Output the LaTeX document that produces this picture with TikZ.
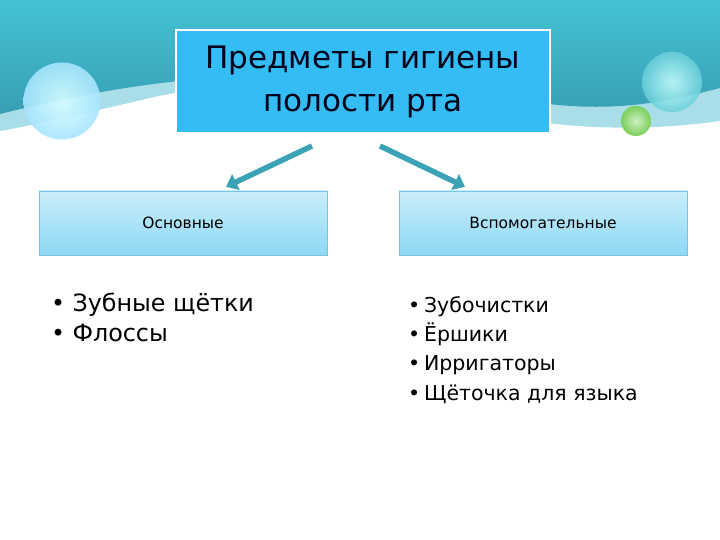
\documentclass[tikz,border=0pt]{standalone}
\usepackage{fontspec}
\setmainfont{DejaVu Sans}
\usetikzlibrary{arrows.meta, positioning, shadings}
\definecolor{tealtop}{HTML}{44C3D2}
\definecolor{tealbot}{HTML}{389FB4}
\definecolor{tband}{HTML}{A9DEE8}
\definecolor{tblue}{HTML}{34BDF4}
\definecolor{boxtop}{HTML}{CBEEFB}
\definecolor{boxbot}{HTML}{8DD8F5}
\definecolor{boxline}{HTML}{78C4DE}
\definecolor{arrteal}{HTML}{3BA3B5}
\definecolor{ballgrn}{HTML}{7ACF5A}

\begin{document}
\begin{tikzpicture}[x=1pt, y=-1pt,
  titlebox/.style={rectangle, draw=white, line width=2pt, fill=tblue,
               minimum width=374pt, minimum height=103pt, align=center,
               font=\fontsize{31}{43}\selectfont, text=black!90!blue},
  subbox/.style={rectangle, draw=boxline, top color=boxtop, bottom color=boxbot,
               minimum width=288pt, minimum height=64pt, align=center,
               font=\fontsize{15.5}{17}\selectfont},
  blist/.style={align=left, inner sep=0pt},
  arr/.style={-{Triangle[length=11pt, width=17pt]}, line width=5.5pt, draw=arrteal},
]
  \useasboundingbox (0,0) rectangle (720,540);

  % background wave
  \fill[tband] (0,0) -- (720,0) -- (720,121)
    .. controls (640,132) and (560,130) .. (470,110)
    .. controls (380,92) and (240,76) .. (150,98)
    .. controls (90,112) and (40,124) .. (0,131) -- cycle;
  \shade[top color=tealtop, bottom color=tealbot] (0,0) -- (720,0) -- (720,88)
    .. controls (660,104) and (610,112) .. (540,103)
    .. controls (430,90) and (300,66) .. (170,82)
    .. controls (100,90) and (40,104) .. (0,114) -- cycle;

  % bubbles
  \shade[inner color=white!85!cyan, outer color=blue!30!cyan!35, opacity=0.9]
    (62,101) circle (38.5);
  \shade[inner color=white!80!cyan, outer color=tealtop!80!white, opacity=0.85]
    (672,82) circle (30);
  \shade[inner color=ballgrn!35!white, outer color=ballgrn]
    (636,121) circle (15);

  \node[titlebox] (ttl) at (363,81.5) {Предметы гигиены\\полости рта};

  \node[subbox] (osn) at (183,223) {Основные};
  \node[subbox] (vsp) at (543,223) {Вспомогательные};

  \draw[arr] ([xshift=-51pt, yshift=-12pt]ttl.south)
    -- ([xshift=43pt, yshift=4pt]osn.north);
  \draw[arr] ([xshift=17pt, yshift=-12pt]ttl.south)
    -- ([xshift=-78pt, yshift=4pt]vsp.north);

  \node[blist, font=\fontsize{23.8}{30}\selectfont, below right=38pt and 12pt of osn.south west]
    (lst1) {\textbullet\ Зубные щётки\\\textbullet\ Флоссы};
  \node[blist, font=\fontsize{20.5}{29.3}\selectfont, below right=41pt and 9pt of vsp.south west]
    (lst2) {\textbullet\hspace{4pt}Зубочистки\\\textbullet\hspace{4pt}Ёршики\\
            \textbullet\hspace{4pt}Ирригаторы\\\textbullet\hspace{4pt}Щёточка для языка};
\end{tikzpicture}
\end{document}
